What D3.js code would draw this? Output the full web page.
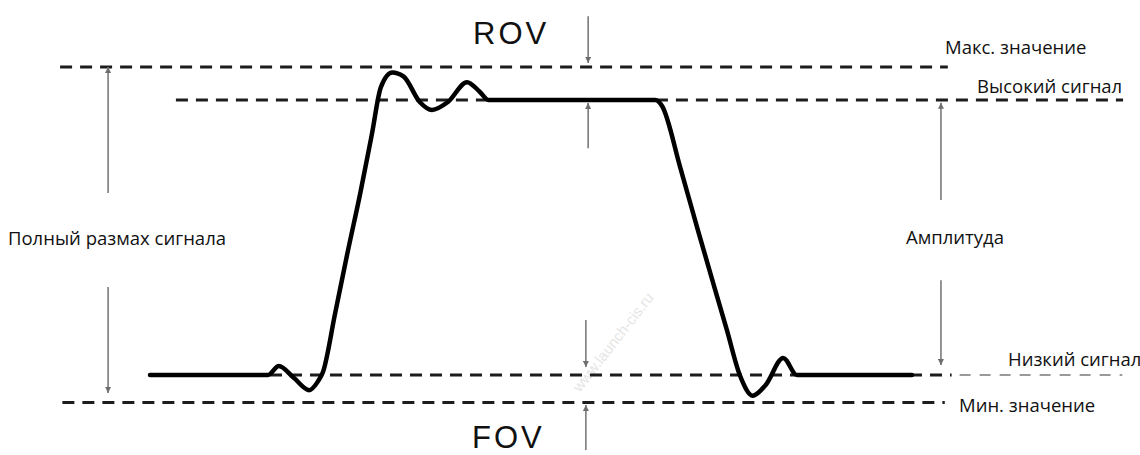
<!DOCTYPE html>
<html>
<head>
<meta charset="utf-8">
<script src="https://cdn.jsdelivr.net/npm/d3@7"></script>
<style>
  html, body { margin: 0; padding: 0; background: #fff; }
  svg { display: block; }
</style>
</head>
<body>
<svg id="chart" width="1140" height="455"></svg>
<script>
// ---------------- DATA ----------------
// Reference levels (signal units, Low = 0, High = 10)
const levelLabels = ["Макс. значение", "Высокий сигнал", "Низкий сигнал", "Мин. значение"];
const levelValues = [11.2, 10, 0, -1.0];

// Waveform (time units 0..100, signal units)
const waveT = [0, 15.5, 16.9, 18.9, 20.9, 22.0, 22.7, 24.3, 25.9, 27.6, 29.1, 30.3, 31.8, 33.3, 35.4, 37.0, 39.1, 41.6, 43.3, 44.4,
               66.3, 67.2, 69.6, 71.9, 74.1, 75.7, 77.4, 79.1, 80.8, 83.1, 84.9, 100];
const waveV = [0, 0, 0.33, -0.11, -0.55, -0.25, 0.11, 2.25, 4.42, 6.62, 8.73, 10.47, 11.0, 10.85, 9.93, 9.64, 9.93, 10.65, 10.29, 10,
               10, 9.78, 7.53, 5.27, 3.16, 1.64, 0, -0.75, -0.36, 0.62, 0, 0];

// Measurement labels
const measureLabels = ["Полный размах сигнала", "Амплитуда"];
const overshootLabels = ["ROV", "FOV"];
const watermark = "www.launch-cis.ru";

// ---------------- CHART ----------------
const svg = d3.select("#chart");
const x = d3.scaleLinear().domain([0, 100]).range([150, 912]);
const y = d3.scaleLinear().domain([0, 10]).range([375, 100]);

const defs = svg.append("defs");
defs.append("marker").attr("id", "ah")
  .attr("viewBox", "0 0 10 10").attr("refX", 10).attr("refY", 5)
  .attr("markerWidth", 6).attr("markerHeight", 6)
  .attr("markerUnits", "userSpaceOnUse")
  .attr("orient", "auto")
  .append("path").attr("d", "M0,0 L10,5 L0,10 z").attr("fill", "#6e6e6e");

// watermark
svg.append("text")
  .attr("transform", "translate(580,393) rotate(-52)")
  .attr("font-family", "Liberation Sans, Arial, sans-serif")
  .attr("font-size", 15)
  .attr("fill", "#e6e6e6")
  .text(watermark);

// dashed reference lines
const levelExtents = [[-11.8, 104.7], [3.4, 127.7], [0, 105.2], [-11.5, 104.3]];
const dashG = svg.append("g");
levelValues.forEach((v, i) => {
  dashG.append("line")
    .attr("x1", x(levelExtents[i][0])).attr("x2", x(levelExtents[i][1]))
    .attr("y1", y(v)).attr("y2", y(v))
    .attr("stroke", "#1c1c1c").attr("stroke-width", 3)
    .attr("stroke-dasharray", "12,8");
});
// lighter continuation of the low line
dashG.append("line")
  .attr("x1", x(105.2) + 8).attr("x2", x(127.6))
  .attr("y1", y(levelValues[2])).attr("y2", y(levelValues[2]))
  .attr("stroke", "#7a7a7a").attr("stroke-width", 1.6)
  .attr("stroke-dasharray", "11,9");

// arrows: [t, vFrom, vTo]
const arrows = [
  [-5.5, 6.62, levelValues[0]],
  [-5.5, 3.2, -0.65],
  [103.8, 6.36, 9.9],
  [103.8, 3.45, 0.36],
  [57.5, 13.05, 11.35],
  [57.5, 8.25, 9.89],
  [57.2, 2.0, 0.29],
  [57.2, -2.73, -1.09]
];
svg.append("g").selectAll("line").data(arrows).join("line")
  .attr("x1", d => x(d[0])).attr("x2", d => x(d[0]))
  .attr("y1", d => y(d[1])).attr("y2", d => y(d[2]))
  .attr("stroke", "#7a7a7a").attr("stroke-width", 1.6)
  .attr("marker-end", "url(#ah)");

// waveform
const wave = waveT.map((t, i) => [t, waveV[i]]);
svg.append("path")
  .datum(wave)
  .attr("d", d3.line().x(d => x(d[0])).y(d => y(d[1])).curve(d3.curveMonotoneX))
  .attr("fill", "none").attr("stroke", "#000").attr("stroke-width", 4.5)
  .attr("stroke-linejoin", "round").attr("stroke-linecap", "round");

// level labels
const labelFont = "Open Sans, sans-serif";
const levelLabelPos = [[945, 54], [977, 93], [1008, 366], [959, 412]];
svg.append("g").selectAll("text").data(levelLabels).join("text")
  .attr("x", (d, i) => levelLabelPos[i][0]).attr("y", (d, i) => levelLabelPos[i][1])
  .attr("font-family", labelFont).attr("font-size", 18.5).attr("fill", "#111")
  .text(d => d);

// measurement labels
const measurePos = [[8, 245], [906, 244]];
svg.append("g").selectAll("text").data(measureLabels).join("text")
  .attr("x", (d, i) => measurePos[i][0]).attr("y", (d, i) => measurePos[i][1])
  .attr("font-family", labelFont).attr("font-size", 18.5).attr("fill", "#111")
  .text(d => d);

// ROV / FOV
const ovPos = [[473, 44], [472, 448]];
svg.append("g").selectAll("text").data(overshootLabels).join("text")
  .attr("x", (d, i) => ovPos[i][0]).attr("y", (d, i) => ovPos[i][1])
  .attr("font-family", "Liberation Sans, Arial, sans-serif")
  .attr("font-size", 31).attr("letter-spacing", 3).attr("fill", "#111")
  .text(d => d);
</script>
</body>
</html>
